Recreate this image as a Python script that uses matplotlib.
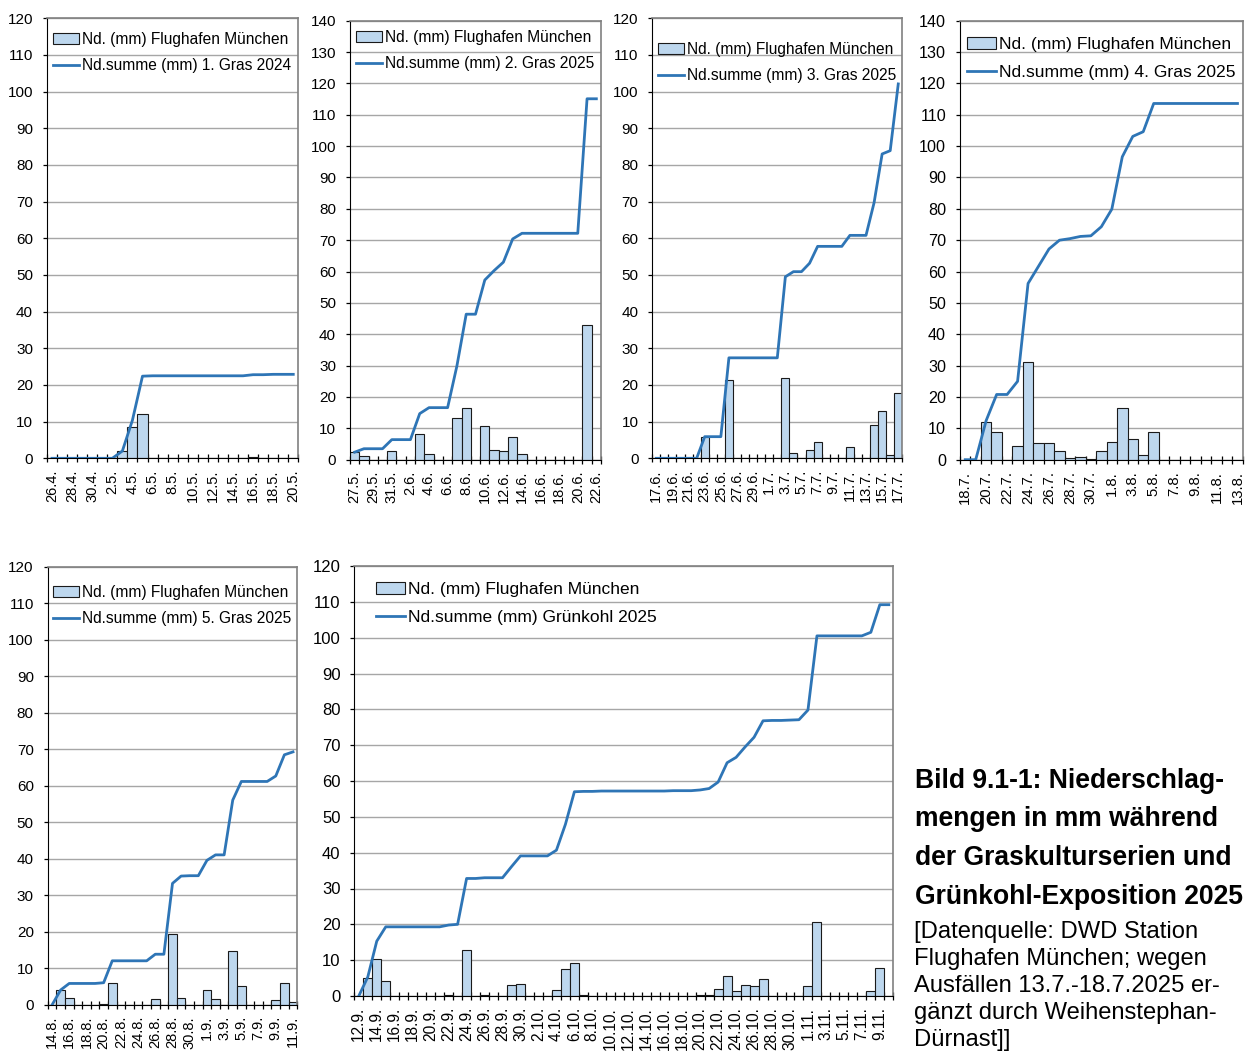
import matplotlib
matplotlib.use("Agg")
import numpy as np
import matplotlib.pyplot as plt
from matplotlib.patches import Patch
from matplotlib.lines import Line2D

plt.rcParams['font.family'] = ['Liberation Sans', 'DejaVu Sans']

W, H = 1251, 1054

# Tagesniederschlag (mm) Flughafen München und aufsummierte Werte je Exposition
rain1 = [0, 0, 0, 0, 0, 0, 0, 2.0, 8.4, 12.0, 0.1, 0, 0, 0, 0, 0, 0, 0, 0, 0, 0.3, 0, 0.1, 0, 0]
cum1 = [0, 0, 0, 0, 0, 0, 0, 2.0, 10.4, 22.4, 22.5, 22.5, 22.5, 22.5, 22.5, 22.5, 22.5, 22.5,
        22.5, 22.5, 22.8, 22.8, 22.9, 22.9, 22.9]
labels1 = ["26.4.", "28.4.", "30.4.", "2.5.", "4.5.", "6.5.", "8.5.", "10.5.", "12.5.", "14.5.",
           "16.5.", "18.5.", "20.5."]

rain2 = [2.4, 1.2, 0, 0, 2.9, 0, 0, 8.2, 1.9, 0, 0, 13.3, 16.6, 0, 10.7, 3.2, 2.7, 7.3, 1.8,
         0, 0, 0, 0, 0, 0, 42.9, 0]
cum2 = [2.4, 3.5, 3.5, 3.5, 6.4, 6.4, 6.4, 14.7, 16.6, 16.6, 16.6, 29.9, 46.4, 46.4, 57.3, 60.3,
        63.0, 70.4, 72.2, 72.2, 72.2, 72.2, 72.2, 72.2, 72.2, 115.1, 115.1]
labels2 = ["27.5.", "29.5.", "31.5.", "2.6.", "4.6.", "6.6.", "8.6.", "10.6.", "12.6.", "14.6.",
           "16.6.", "18.6.", "20.6.", "22.6."]

rain3 = [0, 0, 0, 0, 0, 0, 5.9, 0, 0, 21.4, 0, 0, 0, 0, 0, 0, 22.0, 1.5, 0, 2.3, 4.5, 0, 0, 0,
         3.0, 0, 0, 9.0, 12.9, 1.0, 17.9]
cum3 = [0, 0, 0, 0, 0, 0, 5.9, 5.9, 5.9, 27.4, 27.4, 27.4, 27.4, 27.4, 27.4, 27.4, 49.5, 50.9,
        50.9, 53.2, 57.8, 57.8, 57.8, 57.8, 60.8, 60.8, 60.8, 69.7, 83.0, 83.9, 102.1]
labels3 = ["17.6.", "19.6.", "21.6.", "23.6.", "25.6.", "27.6.", "29.6.", "1.7.", "3.7.", "5.7.",
           "7.7.", "9.7.", "11.7.", "13.7.", "15.7.", "17.7."]

rain4 = [0, 0, 12.0, 8.7, 0, 4.3, 31.2, 5.2, 5.4, 2.9, 0.4, 1.0, 0.2, 2.9, 5.6, 16.4, 6.5, 1.6,
         8.9, 0, 0, 0, 0, 0, 0, 0, 0]
cum4 = [0, 0, 12.5, 20.8, 20.8, 25.0, 56.2, 61.7, 67.2, 70.0, 70.5, 71.2, 71.4, 74.3, 79.9, 96.6,
        103.1, 104.6, 113.6, 113.6, 113.6, 113.6, 113.6, 113.6, 113.6, 113.6, 113.6]
labels4 = ["18.7.", "20.7.", "22.7.", "24.7.", "26.7.", "28.7.", "30.7.", "1.8.", "3.8.", "5.8.",
           "7.8.", "9.8.", "11.8.", "13.8."]

rain5 = [0, 4.1, 1.8, 0, 0, 0, 0.2, 6.1, 0, 0, 0, 0, 1.7, 0, 19.4, 1.9, 0.1, 0, 4.1, 1.6, 0,
         14.9, 5.3, 0, 0, 0, 1.3, 5.9, 0.9]
cum5 = [0, 4.1, 5.9, 5.9, 5.9, 5.9, 6.1, 12.1, 12.1, 12.1, 12.1, 12.1, 13.9, 13.9, 33.3, 35.3,
        35.4, 35.4, 39.6, 41.1, 41.1, 56.1, 61.2, 61.2, 61.2, 61.2, 62.7, 68.5, 69.3]
labels5 = ["14.8.", "16.8.", "18.8.", "20.8.", "22.8.", "24.8.", "26.8.", "28.8.", "30.8.", "1.9.",
           "3.9.", "5.9.", "7.9.", "9.9.", "11.9."]

rain6 = [0, 5.1, 10.2, 4.1, 0, 0, 0, 0, 0, 0, 0.3, 0.1, 12.8, 0.1, 0.2, 0, 0, 3.1, 3.3, 0,
         0, 0, 1.8, 7.4, 9.1, 0.2, 0, 0.1, 0, 0, 0, 0, 0, 0, 0, 0, 0, 0, 0.2, 0.4,
         1.9, 5.5, 1.5, 3.0, 2.7, 4.7, 0.1, 0.1, 0.1, 0, 2.7, 20.6, 0, 0, 0, 0, 0, 1.3, 7.7, 0]
cum6 = [0, 5.3, 15.3, 19.3, 19.3, 19.3, 19.3, 19.3, 19.3, 19.3, 19.8, 20.0, 32.8, 32.8, 33.0,
        33.0, 33.0, 36.1, 39.1, 39.1, 39.1, 39.1, 40.7, 47.9, 57.0, 57.1, 57.1, 57.2, 57.2, 57.2,
        57.2, 57.2, 57.2, 57.2, 57.2, 57.3, 57.3, 57.3, 57.5, 57.9, 59.7, 65.1, 66.6, 69.5, 72.2,
        76.8, 76.9, 76.9, 77.0, 77.1, 79.8, 100.5, 100.5, 100.5, 100.5, 100.5, 100.5, 101.5,
        109.2, 109.2]
labels6 = ["12.9.", "14.9.", "16.9.", "18.9.", "20.9.", "22.9.", "24.9.", "26.9.", "28.9.", "30.9.",
           "2.10.", "4.10.", "6.10.", "8.10.", "10.10.", "12.10.", "14.10.", "16.10.", "18.10.",
           "20.10.", "22.10.", "24.10.", "26.10.", "28.10.", "30.10.", "1.11.", "3.11.", "5.11.",
           "7.11.", "9.11."]

series = ["Nd.summe (mm) 1. Gras 2024", "Nd.summe (mm) 2. Gras 2025", "Nd.summe (mm) 3. Gras 2025",
          "Nd.summe (mm) 4. Gras 2025", "Nd.summe (mm) 5. Gras 2025", "Nd.summe (mm) Grünkohl 2025"]
ymax = [120, 140, 120, 140, 120, 120]

BAR = '#BDD7EE'
EDGE = '#1a1a1a'
LINE = '#2E75B6'
GRID = '#A6A6A6'

fig = plt.figure(figsize=(W / 100, H / 100), dpi=100)


def add_ax(left, top, right, bottom):
    return fig.add_axes([left / W, 1 - bottom / H, (right - left) / W, (bottom - top) / H])


def panel(ax, rain, cum, labels, top, name, leg, fs_leg, fs_y, fs_x):
    n = len(rain)
    x = np.arange(n)
    ax.bar(x, rain, width=1.0, color=BAR, edgecolor=EDGE, linewidth=0.8, zorder=2)
    ax.plot(x, cum, color=LINE, lw=2.0, zorder=3)
    ax.set_xlim(-0.5, n - 0.5)
    ax.set_ylim(0, top)
    ax.set_yticks(np.arange(0, top + 1, 10))
    ax.set_axisbelow(True)
    ax.yaxis.grid(True, color=GRID, lw=1.0)
    ax.set_xticks(x[::2], labels, rotation=90)
    ax.set_xticks(np.arange(n + 1) - 0.5, minor=True)
    ax.tick_params(axis='x', which='major', length=0, pad=8, labelsize=fs_x)
    ax.tick_params(axis='x', which='minor', length=6, direction='inout', width=0.9)
    ax.tick_params(axis='y', length=3, width=0.9, pad=7, labelsize=fs_y)
    for s in ['top', 'right']:
        ax.spines[s].set_color('#808080')
        ax.spines[s].set_linewidth(1.2)
    handles = [Patch(facecolor=BAR, edgecolor=EDGE, linewidth=0.8),
               Line2D([], [], color=LINE, lw=2.0)]
    ax.legend(handles, ['Nd. (mm) Flughafen München', name], loc='upper left',
              bbox_to_anchor=(leg[0] / W, 1 - leg[1] / H), bbox_transform=fig.transFigure,
              frameon=False, fontsize=fs_leg, handlelength=1.65, handletextpad=0.2,
              labelspacing=0.72, borderpad=0, borderaxespad=0)


ax1 = add_ax(47, 18.3, 298.3, 458.3)
panel(ax1, rain1, cum1, labels1, ymax[0], series[0], (53, 32), 11.2, 11.0, 10.5)
ax2 = add_ax(350, 20.7, 601, 459.7)
panel(ax2, rain2, cum2, labels2, ymax[1], series[1], (356, 30), 11.2, 11.0, 10.5)
ax3 = add_ax(652.3, 18.3, 902.3, 458.3)
panel(ax3, rain3, cum3, labels3, ymax[2], series[2], (658, 42), 11.2, 11.0, 10.5)
ax4 = add_ax(960, 20.7, 1242.7, 459.7)
panel(ax4, rain4, cum4, labels4, ymax[3], series[3], (967, 37), 12.6, 11.6, 10.7)
ax5 = add_ax(47.7, 566.7, 297.3, 1005)
panel(ax5, rain5, cum5, labels5, ymax[4], series[4], (53, 585), 11.2, 11.0, 10.5)
ax6 = add_ax(354.3, 566, 893.3, 996)
panel(ax6, rain6, cum6, labels6, ymax[5], series[5], (376, 582), 12.5, 12.0, 11.2)

title_lines = ["Bild 9.1-1: Niederschlag-", "mengen in mm während",
               "der Graskulturserien und", "Grünkohl-Exposition 2025"]
source_lines = ["[Datenquelle: DWD Station", "Flughafen München; wegen",
                "Ausfällen 13.7.-18.7.2025 er-", "gänzt durch Weihenstephan-", "Dürnast]]"]
for i, t in enumerate(title_lines):
    fig.text(915 / W, 1 - (788 + 38.5 * i) / H, t, fontsize=19.1, fontweight='bold',
             va='baseline', ha='left')
for i, t in enumerate(source_lines):
    fig.text(914 / W, 1 - (938 + 27 * i) / H, t, fontsize=17.1, va='baseline', ha='left')

fig.savefig('out.png', dpi=100)
